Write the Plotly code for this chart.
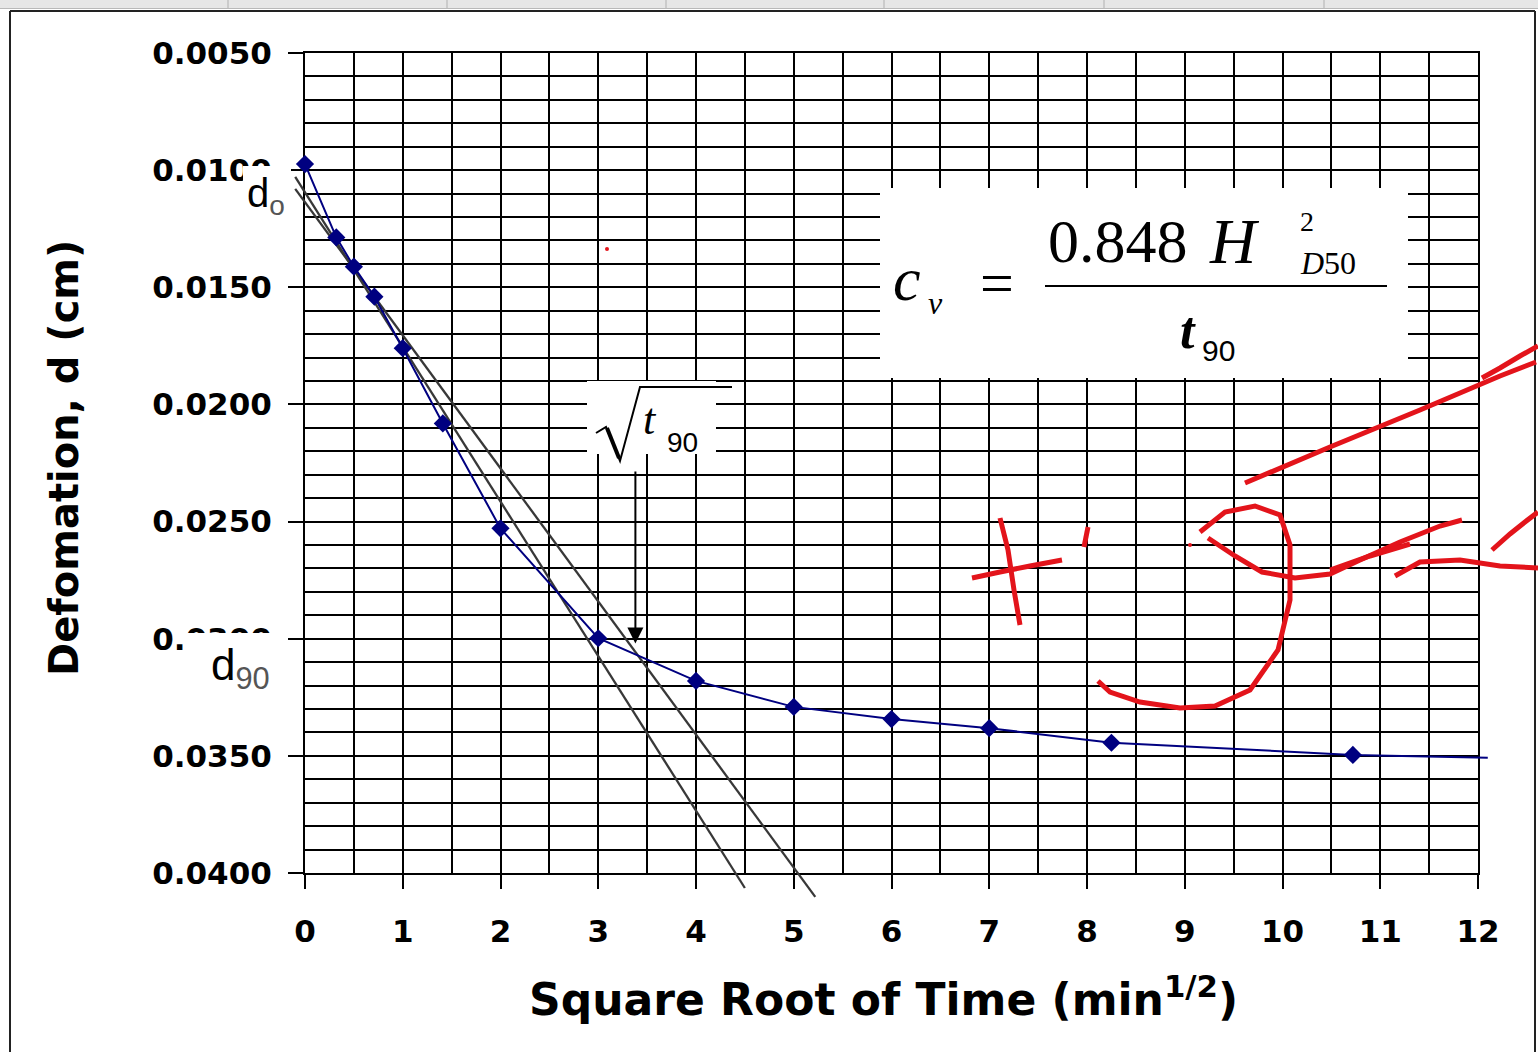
import plotly.graph_objects as go

# ---------------- data ----------------
sqrt_time = [0.0, 0.32, 0.5, 0.71, 1.0, 1.41, 2.0, 3.0, 4.0, 5.0, 6.0, 7.0, 8.25, 10.72]
deformation = [0.00974, 0.01287, 0.01412, 0.01540, 0.01760, 0.02081, 0.02529,
               0.02998, 0.03180, 0.03291, 0.03343, 0.03382, 0.03444, 0.03496]
line_end_x = [12.1]
line_end_y = [0.03508]

tangent_x = [-0.10, 4.50]
tangent_y = [0.01029, 0.04064]
offset_x = [-0.10, 5.22]
offset_y = [0.01080, 0.04102]

t90_root = 3.38
t90_arrow_y = [0.0228, 0.0302]

x_range = [0, 12]
y_range = [0.040, 0.005]

# ---------------- geometry helpers ----------------
W, H = 1538, 1052
ML, MR, MT, MB = 285, 40, 40, 132
PW, PH = W - ML - MR, H - MT - MB


def PX(xp):
    return (xp - ML) / PW


def PY(yp):
    return (H - MB - yp) / PH


# main plot area in pixels
ax_left, ax_right, ax_top, ax_bottom = 305, 1478, 53, 873
dx0, dx1 = PX(ax_left), PX(ax_right)
dy0, dy1 = PY(ax_bottom), PY(ax_top)

# overlay axes covering the whole paper with identical scale (lets lines run past the frame)
kx = (x_range[1] - x_range[0]) / (dx1 - dx0)
x2_range = [x_range[0] - dx0 * kx, x_range[1] + (1 - dx1) * kx]
ky = (y_range[1] - y_range[0]) / (dy1 - dy0)
y2_range = [y_range[0] - dy0 * ky, y_range[1] + (1 - dy1) * ky]

NAVY = "#000080"
BLACK = "#000000"

fig = go.Figure()

fig.add_trace(go.Scatter(x=tangent_x, y=tangent_y, mode="lines",
                         line=dict(color="#383838", width=2.3),
                         xaxis="x2", yaxis="y2", showlegend=False))
fig.add_trace(go.Scatter(x=offset_x, y=offset_y, mode="lines",
                         line=dict(color="#383838", width=2.3),
                         xaxis="x2", yaxis="y2", showlegend=False))
fig.add_trace(go.Scatter(x=sqrt_time + line_end_x, y=deformation + line_end_y, mode="lines",
                         line=dict(color=NAVY, width=2),
                         xaxis="x2", yaxis="y2", showlegend=False))
fig.add_trace(go.Scatter(x=sqrt_time, y=deformation, mode="markers",
                         marker=dict(symbol="diamond", size=14, color=NAVY),
                         xaxis="x2", yaxis="y2", showlegend=False))
# invisible trace to anchor main axes
fig.add_trace(go.Scatter(x=sqrt_time, y=deformation, mode="markers",
                         marker=dict(size=1, opacity=0), showlegend=False,
                         hoverinfo="skip"))

fig.update_layout(
    width=W, height=H,
    margin=dict(l=ML, r=MR, t=MT, b=MB),
    paper_bgcolor="white",
    plot_bgcolor="rgba(0,0,0,0)",
    xaxis=dict(domain=[dx0, dx1], range=x_range, dtick=1, tick0=0,
               showgrid=True, gridcolor=BLACK, gridwidth=2,
               minor=dict(dtick=0.5, tick0=0, showgrid=True, gridcolor=BLACK, gridwidth=2, ticks=""),
               ticks="outside", ticklen=14, tickwidth=2, tickcolor=BLACK,
               showline=True, linecolor=BLACK, linewidth=2, mirror=True,
               zeroline=False, tickfont=dict(family="DejaVu Sans", size=31, color=BLACK, weight="bold"),
               ticklabelstandoff=16),
    yaxis=dict(domain=[dy0, dy1], range=y_range, dtick=0.005, tick0=0.005,
               tickformat=".4f",
               showgrid=True, gridcolor=BLACK, gridwidth=2,
               minor=dict(dtick=0.001, tick0=0.005, showgrid=True, gridcolor=BLACK, gridwidth=2, ticks=""),
               ticks="outside", ticklen=15, tickwidth=2, tickcolor=BLACK,
               showline=True, linecolor=BLACK, linewidth=2, mirror=True,
               zeroline=False, tickfont=dict(family="DejaVu Sans", size=31, color=BLACK, weight="bold"),
               ticklabelstandoff=10),
    xaxis2=dict(domain=[0, 1], range=x2_range, anchor="y2", visible=False, showgrid=False),
    yaxis2=dict(domain=[0, 1], range=y2_range, anchor="x2", visible=False, showgrid=False),
)

shapes = []
annos = []

# spreadsheet header band and outer frame
header_cols = [228, 447, 666, 884, 1104, 1324]
shapes.append(dict(type="rect", xref="paper", yref="paper", x0=PX(0), x1=PX(W), y0=PY(0), y1=PY(8),
                   fillcolor="#e6e6e6", line=dict(width=0), layer="above"))
for c in header_cols:
    shapes.append(dict(type="line", xref="paper", yref="paper", x0=PX(c), x1=PX(c), y0=PY(0), y1=PY(8),
                       line=dict(color="#b0b0b0", width=1), layer="above"))
shapes.append(dict(type="line", xref="paper", yref="paper", x0=PX(0), x1=PX(W), y0=PY(8.5), y1=PY(8.5),
                   line=dict(color="#b8b8b8", width=1), layer="above"))
shapes.append(dict(type="line", xref="paper", yref="paper", x0=PX(10), x1=PX(1535), y0=PY(11), y1=PY(11),
                   line=dict(color="#222", width=2), layer="above"))
shapes.append(dict(type="line", xref="paper", yref="paper", x0=PX(10), x1=PX(10), y0=PY(11), y1=PY(H),
                   line=dict(color="#222", width=2), layer="above"))
shapes.append(dict(type="line", xref="paper", yref="paper", x0=PX(1535), x1=PX(1535), y0=PY(11), y1=PY(H),
                   line=dict(color="#222", width=2), layer="above"))

# white boxes (formula, sqrt t90, d0, d90 labels)
for (x0, y0, x1, y1) in [(880, 188, 1408, 378), (587, 381, 716, 454), (243, 166, 291, 220), (186, 633, 288, 697)]:
    shapes.append(dict(type="rect", xref="paper", yref="paper", x0=PX(x0), x1=PX(x1), y0=PY(y1), y1=PY(y0),
                       fillcolor="white", line=dict(width=0), layer="above"))

# fraction bar
shapes.append(dict(type="line", xref="paper", yref="paper", x0=PX(1045), x1=PX(1387), y0=PY(286), y1=PY(286),
                   line=dict(color=BLACK, width=2), layer="above"))
# radical sign
shapes.append(dict(type="path", xref="paper", yref="paper",
                   path=f"M {PX(596)},{PY(433)} L {PX(606)},{PY(427)} L {PX(620)},{PY(461)} L {PX(640)},{PY(387)} L {PX(732)},{PY(387)}",
                   line=dict(color=BLACK, width=2), layer="above"))
shapes.append(dict(type="line", xref="paper", yref="paper", x0=PX(607), y0=PY(428), x1=PX(619), y1=PY(458),
                   line=dict(color=BLACK, width=4), layer="above"))

# red handwriting strokes


def pth(points):
    return "M " + " L ".join(f"{PX(a)},{PY(b)}" for a, b in points)


red_strokes = [
    [(1245, 483), (1330, 447), (1420, 410), (1500, 376), (1536, 362)],
    [(1482, 378), (1500, 368), (1520, 356), (1538, 346)],
    [(1000, 518), (1008, 550), (1014, 590), (1020, 625)],
    [(972, 578), (1000, 572), (1030, 566), (1062, 560)],
    [(1088, 527), (1084, 547)],
    [(1200, 532), (1225, 512), (1255, 506), (1280, 515), (1290, 545), (1290, 600),
     (1278, 650), (1250, 690), (1215, 706), (1180, 708), (1140, 702), (1110, 692), (1098, 681)],
    [(1208, 538), (1235, 556), (1262, 572), (1295, 578), (1330, 574), (1360, 560), (1400, 542), (1440, 526), (1462, 520)],
    [(1330, 570), (1370, 556), (1410, 544)],
    [(1395, 576), (1420, 562), (1460, 560), (1500, 566), (1538, 568)],
    [(1492, 550), (1510, 534), (1525, 522), (1538, 512)],
]
for pts in red_strokes:
    shapes.append(dict(type="path", xref="paper", yref="paper", path=pth(pts),
                       line=dict(color="#e3141b", width=5), layer="above"))
for (cx, cy) in [(607, 249), (1190, 545)]:
    shapes.append(dict(type="circle", xref="paper", yref="paper", x0=PX(cx - 2), x1=PX(cx + 2),
                       y0=PY(cy + 2), y1=PY(cy - 2), fillcolor="#e3141b", line=dict(width=0), layer="above"))

fig.update_layout(shapes=shapes)


def A(text, x, y, size, family="Liberation Serif", color=BLACK, **kw):
    annos.append(dict(text=text, x=PX(x), y=PY(y), xref="paper", yref="paper", showarrow=False,
                      xanchor=kw.pop("xanchor", "center"), yanchor=kw.pop("yanchor", "middle"),
                      font=dict(family=family, size=size, color=color, weight=kw.pop("weight", "normal")), **kw))


# axis titles
A("Defomation, d (cm)", 64, 458, 40, family="DejaVu Sans", weight="bold", textangle=-90)
A("Square Root of Time (min<sup>1/2</sup>)", 883, 997, 44, family="DejaVu Sans", weight="bold")

# d0 / d90 labels
A("d<sub><span style='color:#555'>o</span></sub>", 266, 196, 40, family="Liberation Sans")
A("d<sub><span style='color:#555'>90</span></sub>", 240, 668, 44, family="Liberation Sans")

# formula
A("<i>c</i>", 907, 279, 62)
A("<i>v</i>", 935, 303, 32)
A("=", 997, 283, 60)
A("0.848", 1118, 241, 62)
A("<i>H</i>", 1234, 241, 64)
A("2", 1307, 221, 28)
A("<i>D</i>50", 1328, 263, 32)
A("<b><i>t</i></b>", 1188, 330, 52)
A("90", 1218, 350, 30, family="Liberation Sans")

# sqrt t90 label
A("<i>t</i>", 650, 420, 44)
A("90", 682, 442, 28, family="Liberation Sans")

# t90 arrow
annos.append(dict(x=t90_root, y=t90_arrow_y[1], ax=t90_root, ay=t90_arrow_y[0],
                  xref="x", yref="y", axref="x", ayref="y", text="", showarrow=True,
                  arrowhead=2, arrowsize=1.6, arrowwidth=2, arrowcolor=BLACK, standoff=0))

fig.update_layout(annotations=annos)

fig.write_html("out.html", config={"displayModeBar": False},
               post_script="document.body.style.margin='0px';")
